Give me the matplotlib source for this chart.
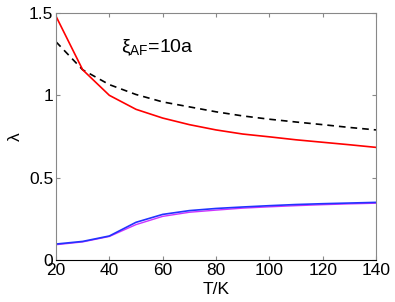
import numpy as np
import matplotlib.pyplot as plt

plt.rcParams['font.family'] = ['Liberation Sans', 'DejaVu Sans']
plt.rcParams['mathtext.fontset'] = 'custom'
plt.rcParams['mathtext.rm'] = 'Liberation Sans'
plt.rcParams['mathtext.it'] = 'Liberation Sans'

# temperaturas
T = [20, 30, 40, 50, 60, 70, 80, 90, 100, 110, 120, 130, 140]

# curvas
lam_red = [1.48, 1.155, 1.0, 0.915, 0.862, 0.822, 0.79, 0.765, 0.748, 0.73, 0.715, 0.70, 0.684]
lam_dash = [1.325, 1.155, 1.065, 1.005, 0.96, 0.93, 0.90, 0.875, 0.855, 0.838, 0.822, 0.805, 0.79]
lam_blue = [0.097, 0.113, 0.146, 0.229, 0.277, 0.30, 0.313, 0.322, 0.33, 0.337, 0.342, 0.346, 0.35]
lam_mag = [0.093, 0.11, 0.143, 0.215, 0.265, 0.29, 0.303, 0.315, 0.323, 0.33, 0.336, 0.341, 0.345]

xticks = [20, 40, 60, 80, 100, 120, 140]
yticks = [0, 0.5, 1, 1.5]
yticklabels = ['0', '0.5', '1', '1.5']

fig = plt.figure(figsize=(3.95, 3.02), dpi=100)
ax = fig.add_axes([0.1418, 0.139, 0.8101, 0.818])

ax.plot(T, lam_dash, color='black', linestyle='--', linewidth=1.2, dashes=(4, 3))
ax.plot(T, lam_red, color='red', linewidth=1.2)
ax.plot(T, lam_mag, color='#cc33ff', linewidth=1.0)
ax.plot(T, lam_blue, color='#2233ff', linewidth=1.2)

ax.set_xlim(20, 140)
ax.set_ylim(0, 1.5)
ax.set_xticks(xticks)
ax.set_yticks(yticks)
ax.set_yticklabels(yticklabels)
ax.tick_params(direction='in', length=3, width=0.8, color='#888888',
               top=True, right=True, labelsize=12.5, pad=2)
for s in ['top', 'right', 'left']:
    ax.spines[s].set_color('#888888')
ax.spines['bottom'].set_color('black')

ax.set_xlabel('T/K', fontsize=12.5, labelpad=3)
ax.set_ylabel('λ', fontsize=12.5, labelpad=4)

ax.text(44.5, 1.26, r'$\xi_{\mathrm{AF}}$=10a', fontsize=14)

fig.savefig('out.png', dpi=100)
